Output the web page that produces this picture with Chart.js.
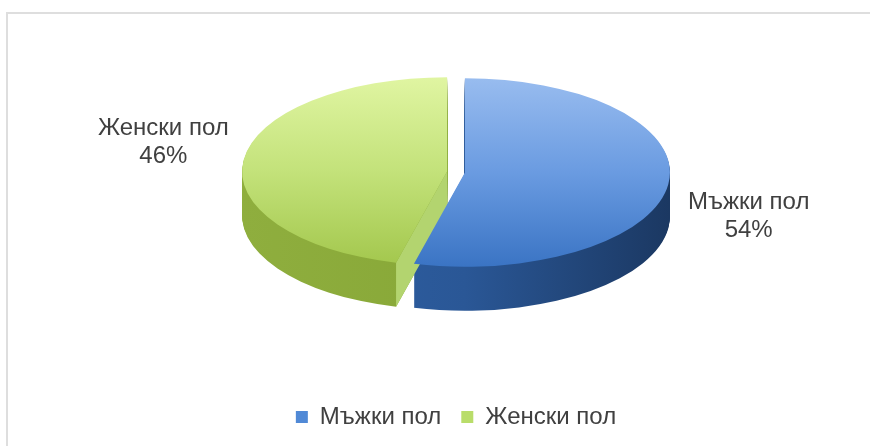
<!DOCTYPE html>
<html lang="bg">
  <head>
    <meta charset="UTF-8">
    <script src="https://cdn.jsdelivr.net/npm/chart.js"></script>
    <style>
      html, body {
      margin: 0;
      padding: 0;
      background: #fff;
      }
      .chart-container {
      position: relative;
      width: 870px;
      height: 446px;
      }
      .frame {
      position: absolute;
      left: 6px;
      top: 12px;
      right: 0;
      bottom: 0;
      border-left: 2px solid #dedede;
      border-top: 2px solid #dedede;
      }
      canvas {
      position: absolute;
      top: 0;
      left: 0;
      }
    </style>
  </head>
  <body>
    <div class="chart-container">
      <div class="frame"></div>
      <canvas id="genderPie"></canvas>
    </div>
    <script>
      const categories = ['Мъжки пол', 'Женски пол'];
      const shares = [54, 46];
      const legendColors = ['#5089d6', '#b9dd6a'];

      // top surface: light at the back, darker at the front
      const topColors = [
        ['#98bcef', '#6a9be1', '#3a74c4'],
        ['#e0f5a2', '#c3e27a', '#a3c74d']
      ];
      // walls: left -> right
      const sideColors = [
        ['#2f62a8', '#2a5796', '#1b3862'],
        ['#8fae3e', '#88a838', '#97b845']
      ];
      const faceColors = ['#2f63aa', '#b3d46f'];

      const pieStyle = { tilt: 0.46, depth: 44, explode: 9, labelGap: 90, labelDrop: 7, lineGap: 28 };
      const labelFont = '24px "Liberation Sans", Arial, sans-serif';

      function midAngle(arc) {
        return (arc.startAngle + arc.endAngle) / 2;
      }

      // squash the pie into an ellipse, push it down by d and pull the slice out
      function place(ctx, arc, d) {
        const a = midAngle(arc);
        ctx.translate(arc.x, arc.y + d);
        ctx.scale(1, pieStyle.tilt);
        ctx.translate(Math.cos(a) * pieStyle.explode, Math.sin(a) * pieStyle.explode);
        ctx.translate(-arc.x, -arc.y);
      }

      function project(arc, px, py, d) {
        const a = midAngle(arc);
        return [
          px + Math.cos(a) * pieStyle.explode,
          arc.y + d + pieStyle.tilt * (py - arc.y + Math.sin(a) * pieStyle.explode)
        ];
      }

      function gradient(ctx, arc, stops, horizontal) {
        const r = arc.outerRadius;
        const g = horizontal
          ? ctx.createLinearGradient(arc.x - r, arc.y, arc.x + r, arc.y)
          : ctx.createLinearGradient(arc.x, arc.y - r, arc.x, arc.y + r);
        stops.forEach((c, i) => g.addColorStop(i / (stops.length - 1), c));
        return g;
      }

      // draw the library's arc element with a different fill
      function paintArc(ctx, arc, fill) {
        const el = Object.create(arc);
        el.options = Object.assign({}, arc.options, { backgroundColor: fill, borderWidth: 0 });
        el.draw(ctx);
      }

      const pie3d = {
        id: 'pie3d',
        beforeDatasetsDraw(chart) {
          const ctx = chart.ctx;
          const arcs = chart.getDatasetMeta(0).data;

          // walls, stacked from the bottom up
          for (let d = pieStyle.depth; d > 0; d--) {
            arcs.forEach((arc, i) => {
              ctx.save();
              place(ctx, arc, d);
              paintArc(ctx, arc, gradient(ctx, arc, sideColors[i], true));
              ctx.restore();
            });
          }

          // cut faces that look towards the viewer
          arcs.forEach((arc, i) => {
            [[arc.startAngle, -1], [arc.endAngle, 1]].forEach(([t, dir]) => {
              if (dir * Math.cos(t) <= 0.01) return;
              const ex = arc.x + Math.cos(t) * arc.outerRadius;
              const ey = arc.y + Math.sin(t) * arc.outerRadius;
              const pts = [
                project(arc, arc.x, arc.y, 0),
                project(arc, ex, ey, 0),
                project(arc, ex, ey, pieStyle.depth),
                project(arc, arc.x, arc.y, pieStyle.depth)
              ];
              ctx.save();
              ctx.beginPath();
              pts.forEach(([px, py], k) => k ? ctx.lineTo(px, py) : ctx.moveTo(px, py));
              ctx.closePath();
              ctx.fillStyle = faceColors[i];
              ctx.fill();
              ctx.restore();
            });
          });

          // top surfaces
          arcs.forEach((arc, i) => {
            ctx.save();
            place(ctx, arc, 0);
            paintArc(ctx, arc, gradient(ctx, arc, topColors[i], false));
            ctx.restore();
          });

          return false;
        }
      };

      const sliceLabels = {
        id: 'sliceLabels',
        afterDraw(chart) {
          const ctx = chart.ctx;
          const total = shares.reduce((s, v) => s + v, 0);
          chart.getDatasetMeta(0).data.forEach((arc, i) => {
            const a = midAngle(arc);
            const r = arc.outerRadius + pieStyle.labelGap;
            const lx = arc.x + Math.cos(a) * r;
            const ly = arc.y + Math.sin(a) * r + pieStyle.labelDrop;
            ctx.save();
            ctx.font = labelFont;
            ctx.fillStyle = '#404040';
            ctx.textAlign = 'center';
            ctx.textBaseline = 'middle';
            ctx.fillText(categories[i], lx, ly - pieStyle.lineGap / 2);
            ctx.fillText(Math.round(shares[i] / total * 100) + '%', lx, ly + pieStyle.lineGap / 2);
            ctx.restore();
          });
        }
      };

      new Chart(document.getElementById('genderPie'), {
        type: 'pie',
        data: {
          labels: categories,
          datasets: [{
            data: shares,
            backgroundColor: legendColors,
            borderWidth: 0
          }]
        },
        options: {
          responsive: true,
          maintainAspectRatio: false,
          animation: false,
          radius: 205,
          layout: {
            padding: { top: 0, bottom: 7, left: 42, right: 0 }
          },
          plugins: {
            legend: {
              position: 'bottom',
              // empty title only reserves room above the legend row
              title: {
                display: true,
                text: '',
                padding: { top: 40, bottom: 0 },
                font: { size: 1, lineHeight: 1 }
              },
              labels: {
                boxWidth: 12,
                boxHeight: 12,
                padding: 20,
                color: '#404040',
                font: { size: 24, family: '"Liberation Sans", Arial, sans-serif' }
              }
            },
            tooltip: { enabled: false }
          }
        },
        plugins: [pie3d, sliceLabels]
      });
    </script>
  </body>
</html>
